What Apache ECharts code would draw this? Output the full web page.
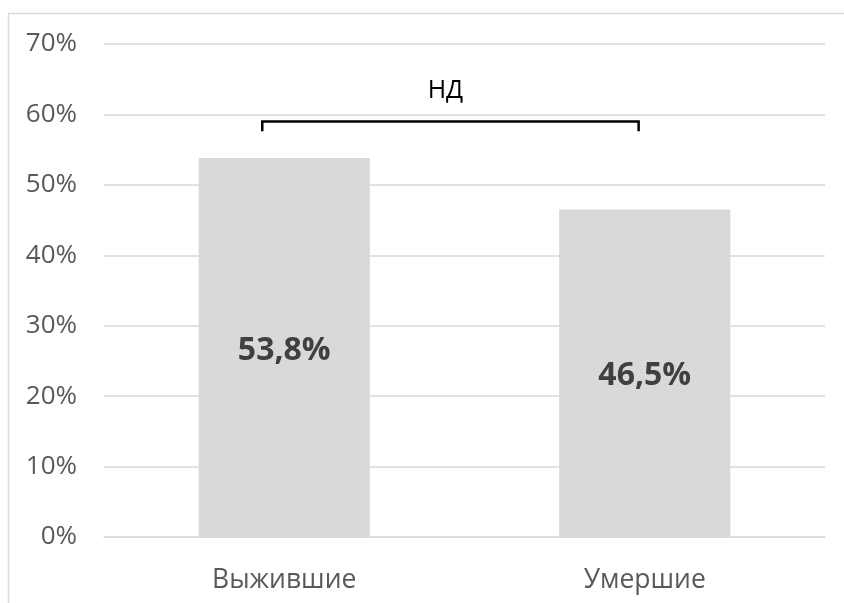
<!DOCTYPE html>
<html>
<head>
<meta charset="utf-8">
<script src="https://cdn.jsdelivr.net/npm/echarts@6/dist/echarts.min.js"></script>
<style>
  html, body { margin: 0; padding: 0; background: #fff; }
  #chart { width: 844px; height: 603px; }
</style>
</head>
<body>
<div id="chart"></div>
<script>
// Survival groups and their share (%)
const categories = ['Выжившие', 'Умершие'];
const shares = [53.8, 46.5];
const yTicks = [0, 10, 20, 30, 40, 50, 60, 70];
// Significance bracket between the two groups
const bracketLabel = 'НД';
const bracketLevel = 59;
const bracketTickLevel = 57.6;
const bracketTextLevel = 63.4;

const chart = echarts.init(document.getElementById('chart'), null, { renderer: 'canvas' });

const FONT = '"Open Sans", "Noto Sans", sans-serif';

chart.setOption({
  animation: false,
  backgroundColor: '#ffffff',
  grid: { left: 104, right: 19, top: 44, bottom: 66, containLabel: false },
  graphic: [{
    type: 'rect',
    shape: { x: 8.5, y: 13.5, width: 900, height: 700 },
    style: { fill: 'none', stroke: '#d9d9d9', lineWidth: 1.5 },
    silent: true,
    z: -10
  }],
  xAxis: {
    type: 'category',
    data: categories,
    axisLine: { show: true, lineStyle: { color: '#d9d9d9', width: 1.5 } },
    axisTick: { show: false },
    axisLabel: { color: '#595959', fontFamily: FONT, fontSize: 26.5, margin: 30 },
    splitLine: { show: false }
  },
  yAxis: {
    type: 'value',
    min: yTicks[0],
    max: yTicks[yTicks.length - 1],
    interval: 10,
    axisLine: { show: false },
    axisTick: { show: false },
    axisLabel: {
      color: '#595959', fontFamily: FONT, fontSize: 26, margin: 27,
      formatter: v => v + '%'
    },
    splitLine: { lineStyle: { color: '#d9d9d9', width: 1.5 } }
  },
  series: [
    {
      type: 'bar',
      data: shares,
      barWidth: '47.5%',
      itemStyle: { color: '#d9d9d9' },
      label: {
        show: true,
        position: 'inside',
        offset: [0, 3],
        color: '#404040',
        fontFamily: FONT,
        fontWeight: 'bold',
        fontSize: 32,
        formatter: p => p.value.toFixed(1).replace('.', ',') + '%'
      },
      z: 2
    },
    {
      type: 'custom',
      data: [[0, 1]],
      z: 5,
      renderItem: function (params, api) {
        const band = api.size([1, 0])[0];
        const a = api.coord([api.value(0), bracketLevel]);
        const b = api.coord([api.value(1), bracketLevel]);
        const x1 = a[0] - band * 0.061;
        const x2 = b[0] - band * 0.017;
        const yTop = a[1];
        const yEnd = api.coord([0, bracketTickLevel])[1];
        const yText = api.coord([0, bracketTextLevel])[1];
        return {
          type: 'group',
          children: [
            {
              type: 'polyline',
              shape: { points: [[x1, yEnd], [x1, yTop], [x2, yTop], [x2, yEnd]] },
              style: { stroke: '#000000', lineWidth: 2.5, fill: 'none' }
            },
            {
              type: 'text',
              style: {
                text: bracketLabel,
                x: (x1 + x2) / 2 - 5,
                y: yText,
                align: 'center',
                verticalAlign: 'middle',
                fill: '#000000',
                font: '25px ' + FONT
              }
            }
          ]
        };
      }
    }
  ]
});
</script>
</body>
</html>
